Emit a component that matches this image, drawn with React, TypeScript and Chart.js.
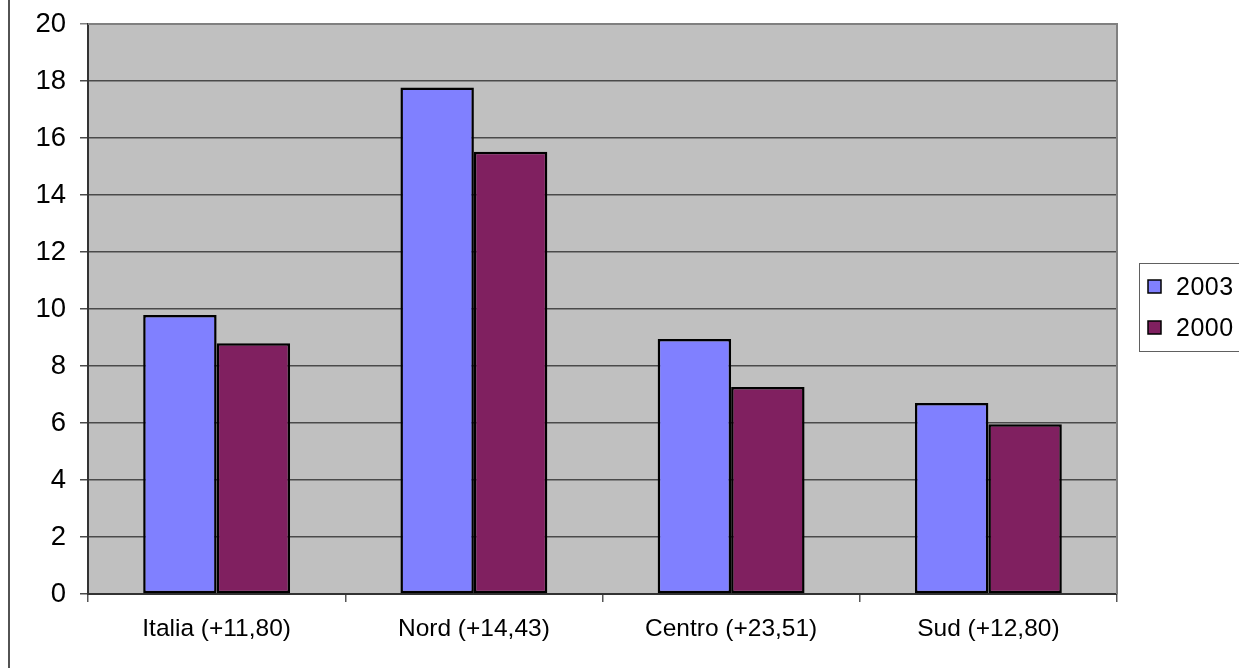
import React, { useEffect, useRef } from 'react';
import { Chart, registerables } from 'chart.js';

Chart.register(...registerables);

const categories = ['Italia (+11,80)', 'Nord (+14,43)', 'Centro (+23,51)', 'Sud (+12,80)'];
const series2003 = [9.79, 17.77, 8.95, 6.7];
const series2000 = [8.8, 15.52, 7.26, 5.96];
const seriesLabels = ['2003', '2000'];
const seriesColors = ['#8080FF', '#802060'];
const yMin = 0;
const yMax = 20;
const yStep = 2;

const FONT = "'Liberation Sans', Arial, sans-serif";

export default function App() {
  const ref = useRef<HTMLCanvasElement | null>(null);

  useEffect(() => {
    document.body.style.margin = '0';
    if (!ref.current) return;

    const plotBg = {
      id: 'plotBg',
      beforeDraw(chart: any) {
        const { ctx, chartArea: a } = chart;
        ctx.save();
        ctx.fillStyle = '#ffffff';
        ctx.fillRect(0, 0, chart.width, chart.height);
        ctx.fillStyle = '#C0C0C0';
        ctx.fillRect(a.left, a.top, a.right - a.left, a.bottom - a.top);
        ctx.restore();
      },
    };

    const frame = {
      id: 'frame',
      afterDraw(chart: any) {
        const { ctx, chartArea: a } = chart;
        ctx.save();
        // outer left border
        ctx.strokeStyle = '#1a1a1a';
        ctx.lineWidth = 1.5;
        ctx.beginPath();
        ctx.moveTo(9, 0);
        ctx.lineTo(9, chart.height);
        ctx.stroke();
        // plot area top/right border
        ctx.strokeStyle = '#808080';
        ctx.lineWidth = 2;
        ctx.beginPath();
        ctx.moveTo(a.left, a.top);
        ctx.lineTo(a.right, a.top);
        ctx.lineTo(a.right, a.bottom);
        ctx.stroke();
        // legend
        const lx = 1139;
        const ly = 263;
        ctx.fillStyle = '#ffffff';
        ctx.fillRect(lx, ly, 200, 88);
        ctx.strokeStyle = '#606060';
        ctx.lineWidth = 1;
        ctx.strokeRect(lx + 0.5, ly + 0.5, 200, 88);
        const rowsY = [287, 328];
        chart.data.datasets.forEach((ds: any, i: number) => {
          const cy = rowsY[i];
          ctx.fillStyle = ds.backgroundColor;
          ctx.fillRect(1148, cy - 7, 13, 13);
          ctx.strokeStyle = '#000';
          ctx.lineWidth = 1.5;
          ctx.strokeRect(1148, cy - 7, 13, 13);
          ctx.fillStyle = '#000';
          ctx.font = `25px ${FONT}`;
          (ctx as any).letterSpacing = '0.5px';
          ctx.textBaseline = 'middle';
          ctx.textAlign = 'left';
          ctx.fillText(ds.label, 1176, cy + 1);
          (ctx as any).letterSpacing = '0px';
        });
        ctx.restore();
      },
    };

    const chart = new Chart(ref.current, {
      type: 'bar',
      data: {
        labels: categories,
        datasets: [
          {
            label: seriesLabels[0],
            data: series2003,
            backgroundColor: seriesColors[0],
            borderColor: '#000',
            borderWidth: 2.5,
            borderSkipped: false,
            barPercentage: 1,
            categoryPercentage: 0.571,
          },
          {
            label: seriesLabels[1],
            data: series2000,
            backgroundColor: seriesColors[1],
            borderColor: '#000',
            borderWidth: 2.5,
            borderSkipped: false,
            barPercentage: 1,
            categoryPercentage: 0.571,
          },
        ],
      },
      options: {
        animation: false,
        responsive: true,
        maintainAspectRatio: false,
        layout: { padding: { left: 0, right: 122, top: 24, bottom: 0 } },
        plugins: {
          legend: { display: false },
          tooltip: { enabled: false },
        },
        scales: {
          x: {
            grid: {
              offset: true,
              drawOnChartArea: false,
              drawTicks: true,
              tickLength: 8,
              color: '#555555',
              lineWidth: 1.5,
            },
            border: { display: true, color: '#333333', width: 2 },
            ticks: {
              color: '#000',
              font: { family: FONT, size: 24.5 },
              padding: 13,
            },
            afterFit(scale: any) {
              scale.height = 74;
              scale.paddingLeft = 0;
              scale.paddingRight = 0;
            },
          },
          y: {
            min: yMin,
            max: yMax,
            ticks: {
              stepSize: yStep,
              color: '#000',
              font: { family: FONT, size: 27.5 },
              padding: 14,
            },
            grid: {
              drawTicks: true,
              tickLength: 8,
              color: (c: any) => (c.tick && c.tick.value === yMax ? '#808080' : '#4a4a4a'),
              lineWidth: 1.5,
            },
            border: { display: true, color: '#333333', width: 2 },
            afterFit(scale: any) {
              scale.width = 88;
              scale.paddingTop = 0;
              scale.paddingBottom = 0;
            },
          },
        },
      },
      plugins: [plotBg, frame],
    });

    return () => chart.destroy();
  }, []);

  return (
    <div style={{ position: 'fixed', left: 0, top: 0, width: 1239, height: 668 }}>
      <canvas ref={ref} />
    </div>
  );
}
